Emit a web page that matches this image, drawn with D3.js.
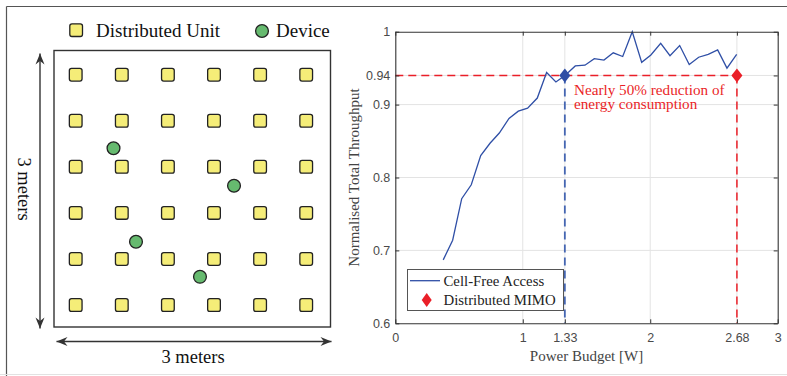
<!DOCTYPE html>
<html><head><meta charset="utf-8">
<script src="https://cdn.jsdelivr.net/npm/d3@7"></script>
<style>body{margin:0;background:#fff}svg{display:block}</style>
</head><body><svg id="c" width="787" height="376"></svg>
<script>
// ---------- data ----------
// Left panel: room layout (metres)
const duPos = [0.25, 0.75, 1.25, 1.75, 2.25, 2.75];
const devX = [0.66, 1.967, 0.904, 1.598];
const devY = [1.048, 1.456, 2.063, 2.444];
const legendLabels = ["Distributed Unit", "Device"];

// Right panel: throughput vs power budget
const power = [0.376,0.450,0.521,0.596,0.670,0.743,0.816,0.892,0.965,1.038,1.114,1.187,1.260,1.331,1.412,1.488,
               1.561,1.637,1.710,1.784,1.859,1.933,2.005,2.082,2.155,2.231,2.306,2.380,2.455,2.529,2.602,2.678];
const throughput = [0.687,0.714,0.771,0.790,0.830,0.847,0.861,0.881,0.891,0.895,0.909,0.944,0.931,0.940,0.953,0.954,
                    0.963,0.961,0.971,0.966,1.000,0.958,0.968,0.984,0.967,0.981,0.955,0.965,0.969,0.975,0.950,0.969];
const xTicks = [0, 1, 1.33, 2, 2.68, 3];
const yTicks = [0.6, 0.7, 0.8, 0.9, 0.94, 1];
const cfPower = 1.33, dmPower = 2.68, refThroughput = 0.94;
const seriesNames = ["Cell-Free Access", "Distributed MIMO"];
const annotation = ["Nearly 50% reduction of", "energy consumption"];

// ---------- drawing ----------
const svg = d3.select("#c");
const SERIF = "'Liberation Serif','Times New Roman',serif";
const SANS = "'Liberation Sans',Arial,Helvetica,sans-serif";
const YELLOW = "#f5ed78", GREEN = "#66ba6f", BLUE = "#2f4fa6", RED = "#ea1f28";

// outer frame
svg.append("line").attr("x1",6.5).attr("x2",787).attr("y1",6.5).attr("y2",6.5).attr("stroke","#555").attr("stroke-width",1.2);
svg.append("line").attr("x1",6.5).attr("x2",6.5).attr("y1",6.5).attr("y2",376).attr("stroke","#555").attr("stroke-width",1.2);
svg.append("line").attr("x1",0).attr("x2",787).attr("y1",374.5).attr("y2",374.5).attr("stroke","#e2e2e2").attr("stroke-width",1);

// arrow marker
const defs = svg.append("defs");
defs.append("marker").attr("id","arr").attr("markerUnits","userSpaceOnUse")
  .attr("viewBox","-12 -6 14 12").attr("refX",0).attr("refY",0)
  .attr("markerWidth",14).attr("markerHeight",12).attr("orient","auto-start-reverse")
  .append("path").attr("d","M0,0 L-11,-4.5 L-7.5,0 L-11,4.5 Z").attr("fill","#333");

// ---- left panel ----
const L = svg.append("g");
const rx = d3.scaleLinear().domain([0,3]).range([52.65, 329.25]);
const ry = d3.scaleLinear().domain([0,3]).range([51.67, 328.03]);

L.append("rect").attr("x",54).attr("y",50.5).attr("width",276.5).attr("height",276.5)
  .attr("fill","none").attr("stroke","#333").attr("stroke-width",1.4);

const sq = 12.7;
const grid = [];
duPos.forEach(r => duPos.forEach(c => grid.push([c, r])));
L.selectAll("rect.du").data(grid).join("rect").attr("class","du")
  .attr("x", d => rx(d[0]) - sq/2).attr("y", d => ry(d[1]) - sq/2)
  .attr("width", sq).attr("height", sq).attr("rx", 2.2)
  .attr("fill", YELLOW).attr("stroke", "#222").attr("stroke-width", 1.3);

L.selectAll("circle.dev").data(devX.map((x,i)=>[x,devY[i]])).join("circle").attr("class","dev")
  .attr("cx", d => rx(d[0])).attr("cy", d => ry(d[1])).attr("r", 6.4)
  .attr("fill", GREEN).attr("stroke", "#222").attr("stroke-width", 1.3);

// legend
L.append("rect").attr("x",69.8).attr("y",23.8).attr("width",sq).attr("height",sq).attr("rx",2.2)
  .attr("fill",YELLOW).attr("stroke","#222").attr("stroke-width",1.3);
L.append("text").attr("x",96).attr("y",36.5).attr("font-family",SERIF).attr("font-size",19).attr("fill","#111").text(legendLabels[0]);
L.append("circle").attr("cx",262).attr("cy",31).attr("r",6.4).attr("fill",GREEN).attr("stroke","#222").attr("stroke-width",1.3);
L.append("text").attr("x",276).attr("y",36.5).attr("font-family",SERIF).attr("font-size",19).attr("fill","#111").text(legendLabels[1]);

// dimension arrows
L.append("line").attr("x1",40).attr("x2",40).attr("y1",53.5).attr("y2",328.5)
  .attr("stroke","#333").attr("stroke-width",1.4).attr("marker-start","url(#arr)").attr("marker-end","url(#arr)");
L.append("line").attr("x1",56.5).attr("x2",331.5).attr("y1",341.5).attr("y2",341.5)
  .attr("stroke","#333").attr("stroke-width",1.4).attr("marker-start","url(#arr)").attr("marker-end","url(#arr)");
L.append("text").attr("x",193).attr("y",363.3).attr("text-anchor","middle")
  .attr("font-family",SERIF).attr("font-size",18.5).attr("fill","#111").text("3 meters");
L.append("text").attr("transform","translate(17.5,189) rotate(90)").attr("text-anchor","middle")
  .attr("font-family",SERIF).attr("font-size",18.5).attr("fill","#111").text("3 meters");

// ---- right panel ----
const P = {l:395.3, r:777.7, t:31.7, b:323.3};
const x = d3.scaleLinear().domain([0,3]).range([P.l, P.r]);
const y = d3.scaleLinear().domain([0.6,1]).range([P.b, P.t]);
const R = svg.append("g");

// grid
R.selectAll("line.gx").data(xTicks.filter(v=>v>0&&v<3)).join("line").attr("class","gx")
  .attr("x1",d=>x(d)).attr("x2",d=>x(d)).attr("y1",P.t).attr("y2",P.b).attr("stroke","#e3e3e3").attr("stroke-width",1);
R.selectAll("line.gy").data(yTicks.filter(v=>v>0.6&&v<1)).join("line").attr("class","gy")
  .attr("x1",P.l).attr("x2",P.r).attr("y1",d=>y(d)).attr("y2",d=>y(d)).attr("stroke","#e3e3e3").attr("stroke-width",1);

// reference dashed lines
R.append("line").attr("x1",x(0)).attr("x2",x(dmPower)).attr("y1",y(refThroughput)).attr("y2",y(refThroughput))
  .attr("stroke",RED).attr("stroke-width",1.5).attr("stroke-dasharray","8,5");
R.append("line").attr("x1",x(dmPower)).attr("x2",x(dmPower)).attr("y1",y(refThroughput)).attr("y2",y(0.6))
  .attr("stroke",RED).attr("stroke-width",1.5).attr("stroke-dasharray","8,5");
R.append("line").attr("x1",x(cfPower)).attr("x2",x(cfPower)).attr("y1",y(refThroughput)).attr("y2",y(0.6))
  .attr("stroke","#4566b2").attr("stroke-width",1.8).attr("stroke-dasharray","8,5");

// curve
R.append("path").datum(power.map((p,i)=>[p,throughput[i]]))
  .attr("d", d3.line().x(d=>x(d[0])).y(d=>y(d[1])))
  .attr("fill","none").attr("stroke",BLUE).attr("stroke-width",1.3).attr("stroke-linejoin","miter");

// diamonds
const diamond = (cx, cy, hw, hh) => `M${cx},${cy-hh} L${cx+hw},${cy} L${cx},${cy+hh} L${cx-hw},${cy} Z`;
R.append("path").attr("d", diamond(x(cfPower), y(refThroughput), 5.5, 7)).attr("fill",BLUE);
R.append("path").attr("d", diamond(x(dmPower), y(refThroughput), 5.5, 7)).attr("fill",RED);

// annotation
R.append("text").attr("font-family",SERIF).attr("font-size",15.2).attr("fill",RED)
  .selectAll("tspan").data(annotation).join("tspan")
  .attr("x",574).attr("y",(d,i)=>95+i*14).text(d=>d);

// legend
const lg = R.append("g");
lg.append("rect").attr("x",407.5).attr("y",269.5).attr("width",156).attr("height",41)
  .attr("fill","#fff").attr("stroke","#555").attr("stroke-width",1);
lg.append("line").attr("x1",410).attr("x2",440).attr("y1",280.7).attr("y2",280.7).attr("stroke",BLUE).attr("stroke-width",1.3);
lg.append("path").attr("d",diamond(426.7,300,5,7)).attr("fill",RED);
lg.selectAll("text").data(seriesNames).join("text")
  .attr("x",443.5).attr("y",(d,i)=>285.5+i*19.3).attr("font-family",SERIF).attr("font-size",14.8).attr("fill","#222").text(d=>d);

// axes (box)
const fmt = d => String(d);
const axB = R.append("g").attr("transform",`translate(0,${P.b})`)
  .call(d3.axisBottom(x).tickValues(xTicks).tickFormat(fmt).tickSize(-4).tickPadding(10).tickSizeOuter(0));
const axT = R.append("g").attr("transform",`translate(0,${P.t})`)
  .call(d3.axisTop(x).tickValues(xTicks).tickFormat("").tickSize(-4).tickSizeOuter(0));
const axL = R.append("g").attr("transform",`translate(${P.l},0)`)
  .call(d3.axisLeft(y).tickValues(yTicks).tickFormat(fmt).tickSize(-4).tickPadding(5).tickSizeOuter(0));
const axR = R.append("g").attr("transform",`translate(${P.r},0)`)
  .call(d3.axisRight(y).tickValues(yTicks).tickFormat("").tickSize(-4).tickSizeOuter(0));
[axB,axT,axL,axR].forEach(a=>{
  a.select(".domain").attr("stroke","#333").attr("stroke-width",1.1);
  a.selectAll(".tick line").attr("stroke","#333");
  a.selectAll("text").attr("font-family",SANS).attr("font-size",12.5).attr("fill","#4a4a4a");
});

// axis labels
R.append("text").attr("x",(P.l+P.r)/2).attr("y",361).attr("text-anchor","middle")
  .attr("font-family",SERIF).attr("font-size",15).attr("fill","#444").text("Power Budget [W]");
R.append("text").attr("transform",`translate(358.5,${(P.t+P.b)/2}) rotate(-90)`).attr("text-anchor","middle")
  .attr("font-family",SERIF).attr("font-size",15).attr("fill","#444").text("Normalised Total Throughput");
</script></body></html>
